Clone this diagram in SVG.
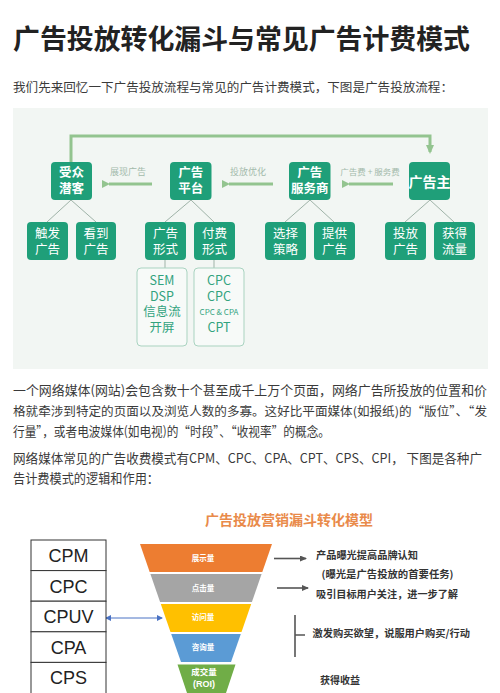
<svg xmlns="http://www.w3.org/2000/svg" width="500" height="693" viewBox="0 0 500 693">
<defs>
<style>
.cjk{font-family:"Noto Sans CJK SC","Noto Sans",sans-serif}
.title{font-size:27px;font-weight:bold;fill:#222}
.para{font-size:13px;fill:#3a3a3a}
.node rect{fill:#1f9f79}
.pt{font-size:12.5px;font-weight:bold;fill:#fff;text-anchor:middle}
.ct{font-size:12.5px;fill:#fff;text-anchor:middle}
.lbl{font-size:9px;fill:#a3baab;text-anchor:middle}
.obox{fill:#f7faf8;stroke:#a9d3c0;stroke-width:1}
.ot{font-size:12.5px;fill:#32a37e;text-anchor:middle}
.tree{stroke:#9fb3a8;stroke-width:1;fill:none}
.flow{stroke:#93c48f;stroke-width:3;fill:none}
.row{fill:#fff;stroke:#333;stroke-width:1}
.rt{font-family:"Liberation Sans",Arial,sans-serif;font-size:18px;fill:#222;text-anchor:middle}
.fl{font-size:7.5px;font-weight:bold;fill:#fff;text-anchor:middle}
.rtxt{font-size:10px;font-weight:bold;fill:#333}
</style>
<marker id="ga" markerWidth="8" markerHeight="8" refX="1" refY="4" orient="auto" markerUnits="userSpaceOnUse" viewBox="0 0 8 8">
<path d="M8,0 L0,4 L8,8 z" fill="#93c48f"/>
</marker>
<marker id="gd" markerWidth="9" markerHeight="8" refX="7" refY="4" orient="auto" markerUnits="userSpaceOnUse" viewBox="0 0 9 8">
<path d="M0,0 L9,4 L0,8 z" fill="#93c48f"/>
</marker>
<marker id="ba" markerWidth="6" markerHeight="6" refX="5" refY="3" orient="auto-start-reverse" markerUnits="userSpaceOnUse" viewBox="0 0 6 6">
<path d="M0,0 L6,3 L0,6 z" fill="#4a72c4"/>
</marker>
<marker id="da" markerWidth="7" markerHeight="6" refX="6" refY="3" orient="auto" markerUnits="userSpaceOnUse" viewBox="0 0 7 6">
<path d="M0,0 L7,3 L0,6 z" fill="#555"/>
</marker>
</defs>
<rect width="500" height="693" fill="#fff"/>
<text class="cjk title" x="13" y="49" textLength="457" lengthAdjust="spacingAndGlyphs">广告投放转化漏斗与常见广告计费模式</text>
<text class="cjk para" x="13" y="91.5" style="font-size:12.5px" textLength="440" lengthAdjust="spacingAndGlyphs">我们先来回忆一下广告投放流程与常见的广告计费模式，下图是广告投放流程：</text>

<rect x="13" y="108" width="475" height="261" fill="#f2f6f3"/>

<g id="connectors">
<polyline class="flow" points="71,162 71,136 430,136 430,152" marker-end="url(#gd)"/>
<line class="flow" x1="152" y1="184" x2="109" y2="184" marker-end="url(#ga)"/>
<line class="flow" x1="273" y1="184" x2="229" y2="184" marker-end="url(#ga)"/>
<line class="flow" x1="393" y1="184" x2="349" y2="184" marker-end="url(#ga)"/>
<path class="tree" d="M71,200 L47,222 M71,200 L96,222 M191,200 L165,222 M191,200 L214,222 M310,200 L285,222 M310,200 L334,222 M430,200 L405,222 M430,200 L454,222 M165,260 L165,268 M214,260 L214,268"/>
<line x1="106" y1="618" x2="162" y2="618" stroke="#4a72c4" stroke-width="1" marker-start="url(#ba)" marker-end="url(#ba)"/>
<line x1="274" y1="558.5" x2="306" y2="558.5" stroke="#555" stroke-width="1.6" marker-end="url(#da)"/>
<line x1="277" y1="588" x2="308" y2="588" stroke="#555" stroke-width="1.6" marker-end="url(#da)"/>
<path d="M295,615 L295,657 M295,635 L305,635" stroke="#555" stroke-width="1.6" fill="none"/>
</g>
<g class="cjk">
<text class="lbl" x="128" y="175">展现广告</text>
<text class="lbl" x="248" y="175">投放优化</text>
<text class="lbl" x="370" y="175" style="font-size:8.5px">广告费 + 服务费</text>
</g>

<g id="n-audience" class="node cjk"><rect x="51" y="162" width="41" height="38" rx="4"/><text class="pt" x="71.5" y="176.5">受众</text><text class="pt" x="71.5" y="192.7">潜客</text></g>
<g id="n-platform" class="node cjk"><rect x="170" y="162" width="41.5" height="38" rx="4"/><text class="pt" x="190.8" y="176.5">广告</text><text class="pt" x="190.8" y="192.7">平台</text></g>
<g id="n-agency" class="node cjk"><rect x="289" y="162" width="41.5" height="38" rx="4"/><text class="pt" x="309.8" y="176.5">广告</text><text class="pt" x="309.8" y="192.7">服务商</text></g>
<g id="n-advertiser" class="node cjk"><rect x="409" y="162" width="41" height="38" rx="4"/><text class="pt" x="429.5" y="186.5" style="font-size:14px">广告主</text></g>

<g id="n-trigger" class="node cjk"><rect x="27" y="222" width="41" height="38" rx="4"/><text class="ct" x="47.5" y="237.6">触发</text><text class="ct" x="47.5" y="253.6">广告</text></g>
<g id="n-see" class="node cjk"><rect x="76" y="222" width="40" height="38" rx="4"/><text class="ct" x="96" y="237.6">看到</text><text class="ct" x="96" y="253.6">广告</text></g>
<g id="n-adform" class="node cjk"><rect x="145" y="222" width="41" height="38" rx="4"/><text class="ct" x="165.5" y="237.6">广告</text><text class="ct" x="165.5" y="253.6">形式</text></g>
<g id="n-payform" class="node cjk"><rect x="194" y="222" width="41" height="38" rx="4"/><text class="ct" x="214.5" y="237.6">付费</text><text class="ct" x="214.5" y="253.6">形式</text></g>
<g id="n-strategy" class="node cjk"><rect x="265" y="222" width="41" height="38" rx="4"/><text class="ct" x="285.5" y="237.6">选择</text><text class="ct" x="285.5" y="253.6">策略</text></g>
<g id="n-provide" class="node cjk"><rect x="314" y="222" width="41" height="38" rx="4"/><text class="ct" x="334.5" y="237.6">提供</text><text class="ct" x="334.5" y="253.6">广告</text></g>
<g id="n-place" class="node cjk"><rect x="385" y="222" width="41" height="38" rx="4"/><text class="ct" x="405.5" y="237.6">投放</text><text class="ct" x="405.5" y="253.6">广告</text></g>
<g id="n-traffic" class="node cjk"><rect x="434" y="222" width="41" height="38" rx="4"/><text class="ct" x="454.5" y="237.6">获得</text><text class="ct" x="454.5" y="253.6">流量</text></g>

<g id="n-formlist" class="cjk"><rect class="obox" x="137" y="268" width="50" height="78" rx="4"/>
<text class="ot" x="162" y="284.5">SEM</text><text class="ot" x="162" y="300.5">DSP</text><text class="ot" x="162" y="316">信息流</text><text class="ot" x="162" y="332">开屏</text></g>
<g id="n-paylist" class="cjk"><rect class="obox" x="194" y="268" width="50" height="78" rx="4"/>
<text class="ot" x="219" y="284.5">CPC</text><text class="ot" x="219" y="300.5">CPC</text><text class="ot" x="219" y="315" style="font-size:8px">CPC &amp; CPA</text><text class="ot" x="219" y="332">CPT</text></g>

<g class="cjk para">
<text x="13" y="394.5" textLength="474" lengthAdjust="spacingAndGlyphs">一个网络媒体(网站)会包含数十个甚至成千上万个页面，网络广告所投放的位置和价</text>
<text x="13" y="416" style="font-size:12.2px" textLength="474" lengthAdjust="spacingAndGlyphs">格就牵涉到特定的页面以及浏览人数的多寡。这好比平面媒体(如报纸)的“版位”、“发</text>
<text x="13" y="436" textLength="317" lengthAdjust="spacingAndGlyphs">行量”，或者电波媒体(如电视)的“时段”、“收视率”的概念。</text>
<text x="13" y="462.5" textLength="469" lengthAdjust="spacingAndGlyphs">网络媒体常见的广告收费模式有CPM、CPC、CPA、CPT、CPS、CPI， 下图是各种广</text>
<text x="13" y="482.5" textLength="146" lengthAdjust="spacingAndGlyphs">告计费模式的逻辑和作用：</text>
</g>

<text class="cjk" x="205" y="525" style="font-size:14px;font-weight:bold" fill="#e98a4a" textLength="168" lengthAdjust="spacingAndGlyphs">广告投放营销漏斗转化模型</text>

<g id="n-table">
<rect class="row" x="31" y="540" width="75" height="30.6"/><text class="rt" x="68.5" y="562">CPM</text>
<rect class="row" x="31" y="570.6" width="75" height="30.6"/><text class="rt" x="68.5" y="592.5">CPC</text>
<rect class="row" x="31" y="601.2" width="75" height="30.6"/><text class="rt" x="68.5" y="623">CPUV</text>
<rect class="row" x="31" y="631.8" width="75" height="30.6"/><text class="rt" x="68.5" y="653.5">CPA</text>
<rect class="row" x="31" y="662.4" width="75" height="40"/><text class="rt" x="68.5" y="684">CPS</text>
</g>

<g id="n-funnel" class="cjk">
<polygon points="140,544 272,544 262.3,572 149.7,572" fill="#ed7d31"/>
<polygon points="150.4,574 261.6,574 251.9,602 160.1,602" fill="#a5a5a5"/>
<polygon points="160.8,604 251.2,604 241.5,632 170.5,632" fill="#ffc000"/>
<polygon points="171.2,634 240.8,634 231,662 181,662" fill="#5b9bd5"/>
<polygon points="177.5,664.5 235.5,664.5 226,693 187,693" fill="#70ad47"/>
<text class="fl" x="203" y="560.7">展示量</text>
<text class="fl" x="203" y="590.7">点击量</text>
<text class="fl" x="203" y="620.2">访问量</text>
<text class="fl" x="203" y="650.2">咨询量</text>
<text class="fl" x="204" y="675" style="font-size:8.5px">成交量</text>
<text class="fl" x="204" y="686.5" style="font-size:9px;font-family:'Liberation Sans',Arial,sans-serif">(ROI)</text>
</g>

<g class="cjk rtxt">
<text x="316" y="558.5" textLength="102" lengthAdjust="spacingAndGlyphs">产品曝光提高品牌认知</text>
<text x="321.5" y="577.5" textLength="132" lengthAdjust="spacingAndGlyphs">(曝光是广告投放的首要任务)</text>
<text x="316" y="597.8" textLength="142" lengthAdjust="spacingAndGlyphs">吸引目标用户关注，进一步了解</text>
<text x="312.5" y="636.8" textLength="157.5" lengthAdjust="spacingAndGlyphs">激发购买欲望，说服用户购买/行动</text>
<text x="320" y="683.5" textLength="40" lengthAdjust="spacingAndGlyphs">获得收益</text>
</g>
</svg>
